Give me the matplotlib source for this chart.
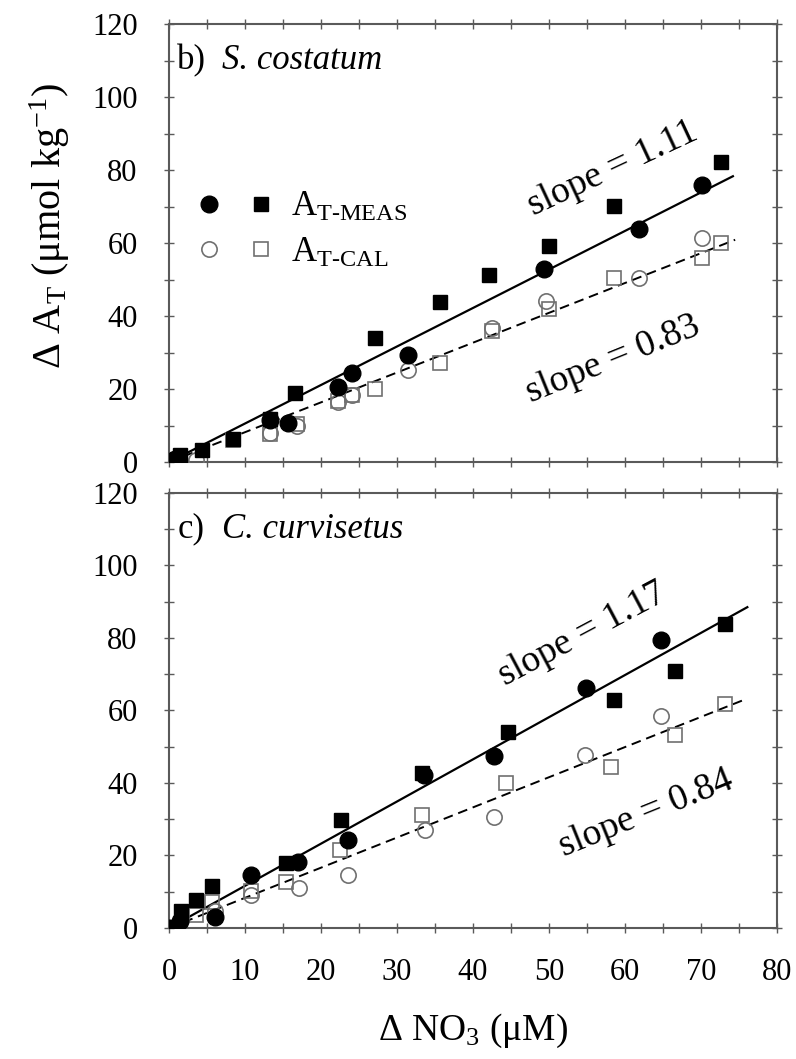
import matplotlib
matplotlib.use("Agg")
import matplotlib.pyplot as plt
from matplotlib.ticker import MultipleLocator
from matplotlib.legend_handler import HandlerTuple
from matplotlib.lines import Line2D

plt.rcParams["font.family"] = ["Liberation Serif", "DejaVu Serif"]
plt.rcParams["mathtext.fontset"] = "custom"
plt.rcParams["mathtext.rm"] = "Liberation Serif"
plt.rcParams["mathtext.it"] = "Liberation Serif:italic"
plt.rcParams["mathtext.bf"] = "Liberation Serif:bold"

# ---- b) S. costatum ----
b_meas_circ_x = [0, 0.8, 13.3, 15.7, 22.2, 24.1, 31.4, 49.4, 61.8, 70.1]
b_meas_circ_y = [0, 0.8, 11.5, 10.7, 20.6, 24.5, 29.3, 52.9, 63.8, 76.0]
b_meas_sq_x = [0.5, 1.5, 4.3, 8.4, 13.3, 16.6, 27.1, 35.6, 42.1, 50.0, 58.5, 72.7]
b_meas_sq_y = [0.5, 1.8, 3.2, 6.4, 11.9, 18.8, 33.9, 43.8, 51.3, 59.3, 70.1, 82.3]
b_cal_circ_x = [0, 3.5, 13.3, 16.8, 22.2, 24.1, 31.4, 42.5, 49.6, 61.8, 70.1]
b_cal_circ_y = [0, 0.5, 8.0, 10.0, 16.5, 18.3, 25.2, 36.6, 44.0, 50.4, 61.5]
b_cal_sq_x = [0.5, 8.4, 13.3, 16.8, 22.2, 24.1, 27.1, 35.7, 42.5, 50.0, 58.5, 70.1, 72.6]
b_cal_sq_y = [0.5, 6.0, 7.8, 10.5, 16.8, 18.5, 20.0, 27.0, 36.0, 42.0, 50.3, 56.0, 60.0]
b_fit_meas = ([0, 74.2], [0, 78.3])
b_fit_cal = ([0, 74.5], [0, 60.9])

# ---- c) C. curvisetus ----
c_meas_circ_x = [0, 1.4, 6.0, 10.8, 17.0, 23.6, 33.6, 42.8, 54.9, 64.7]
c_meas_circ_y = [0, 1.8, 3.0, 14.7, 18.3, 24.3, 42.2, 47.4, 66.1, 79.4]
c_meas_sq_x = [0, 1.6, 3.5, 5.6, 15.4, 22.6, 33.3, 44.6, 58.5, 66.6, 73.1]
c_meas_sq_y = [0, 4.6, 7.8, 11.7, 17.9, 29.8, 42.7, 54.1, 62.8, 70.9, 83.8]
c_cal_circ_x = [0, 6.0, 10.8, 17.1, 23.6, 33.7, 42.8, 54.7, 64.7]
c_cal_circ_y = [0, 4.6, 9.2, 11.0, 14.7, 27.1, 30.7, 47.7, 58.4]
c_cal_sq_x = [0, 3.5, 5.6, 10.8, 15.4, 22.5, 33.3, 44.4, 58.2, 66.6, 73.1]
c_cal_sq_y = [0, 3.7, 7.3, 10.1, 12.8, 21.6, 31.2, 39.9, 44.5, 53.2, 61.9]
c_fit_meas = ([0, 76.1], [0, 88.5])
c_fit_cal = ([0, 76.1], [0, 63.3])

GRAY = "#5a5a5a"
OPEN = "#707070"


def style_axes(ax):
    ax.set_xlim(0, 80)
    ax.set_ylim(0, 120)
    ax.xaxis.set_major_locator(MultipleLocator(10))
    ax.xaxis.set_minor_locator(MultipleLocator(5))
    ax.yaxis.set_major_locator(MultipleLocator(20))
    ax.yaxis.set_minor_locator(MultipleLocator(10))
    ax.tick_params(which="both", direction="inout", length=7, width=1,
                   color=GRAY, top=True, right=True, labelsize=22)
    ax.tick_params(axis="y", pad=19)
    ax.tick_params(axis="x", pad=18)
    for s in ax.spines.values():
        s.set_color(GRAY)
        s.set_linewidth(1.5)


def panel(ax, mcx, mcy, msx, msy, ccx, ccy, csx, csy, fm, fc):
    ax.plot(*fm, "-", color="k", lw=1.6, zorder=2)
    ax.plot(*fc, "--", color="k", lw=1.4, dashes=(5, 3), zorder=2)
    ax.plot(ccx, ccy, "o", ms=11, mfc="none", mec=OPEN, mew=1.2, zorder=3)
    ax.plot(csx, csy, "s", ms=9.5, mfc="none", mec=OPEN, mew=1.2, zorder=3)
    ax.plot(mcx, mcy, "o", ms=12, color="k", zorder=4)
    ax.plot(msx, msy, "s", ms=10, color="k", zorder=4)
    style_axes(ax)


fig = plt.figure(figsize=(7.96, 10.59), dpi=100)
ax1 = fig.add_axes([0.2123, 0.5637, 0.7638, 0.4136])
ax2 = fig.add_axes([0.2123, 0.1237, 0.7638, 0.4108])

panel(ax1, b_meas_circ_x, b_meas_circ_y, b_meas_sq_x, b_meas_sq_y,
      b_cal_circ_x, b_cal_circ_y, b_cal_sq_x, b_cal_sq_y, b_fit_meas, b_fit_cal)
panel(ax2, c_meas_circ_x, c_meas_circ_y, c_meas_sq_x, c_meas_sq_y,
      c_cal_circ_x, c_cal_circ_y, c_cal_sq_x, c_cal_sq_y, c_fit_meas, c_fit_cal)
ax1.tick_params(labelbottom=False)

for ax, tag, name in [(ax1, "b)", "S. costatum"), (ax2, "c)", "C. curvisetus")]:
    ax.text(1.1, 110, tag, fontsize=25, va="center")
    ax.text(7.0, 110, name, fontsize=25, va="center", style="italic")

ax1.text(58.4, 80.5, "slope = 1.11", fontsize=27, rotation=25,
         ha="center", va="center")
ax1.text(58.4, 28.0, "slope = 0.83", fontsize=27, rotation=22,
         ha="center", va="center")
ax2.text(54.4, 81.0, "slope = 1.17", fontsize=27, rotation=28,
         ha="center", va="center")
ax2.text(62.8, 31.5, "slope = 0.84", fontsize=27, rotation=22,
         ha="center", va="center")

# legend: circle + square pair per row
h_meas = (Line2D([], [], ls="", marker="o", ms=12, color="k"),
          Line2D([], [], ls="", marker="s", ms=10, color="k"))
h_cal = (Line2D([], [], ls="", marker="o", ms=11, mfc="none", mec=OPEN, mew=1.2),
         Line2D([], [], ls="", marker="s", ms=9.5, mfc="none", mec=OPEN, mew=1.2))
ax1.legend([h_meas, h_cal], ["A$_{\\mathrm{T‐MEAS}}$", "A$_{\\mathrm{T‐CAL}}$"],
           handler_map={tuple: HandlerTuple(ndivide=None, pad=1.0)},
           loc="upper left", bbox_to_anchor=(0.0, 0.69), frameon=False,
           fontsize=25, handlelength=2.0, handletextpad=0.6, labelspacing=0.35)

ax2.set_xlabel(r"$\Delta$ NO$_3$ ($\mathrm{\mu}$M)", fontsize=27, labelpad=18)
fig.text(0.063, 1 - 226 / 1059, r"$\Delta$ A$_\mathrm{T}$ ($\mathrm{\mu}$mol kg$^{-1}$)",
         rotation=90, fontsize=29, ha="center", va="center")

fig.savefig("out.png", dpi=100)
